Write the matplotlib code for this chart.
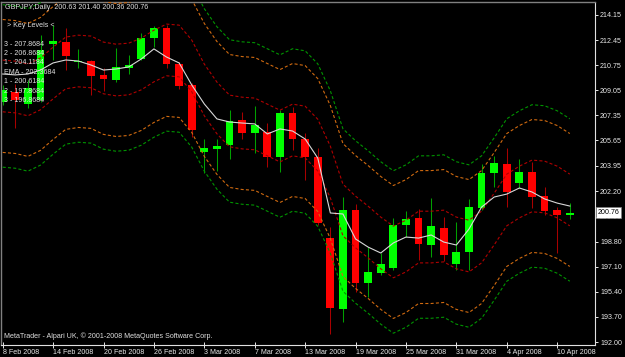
import matplotlib
matplotlib.use("Agg")
import matplotlib.pyplot as plt
import matplotlib.transforms as mtransforms
import numpy as np

plt.rcParams['font.family'] = ['Liberation Sans', 'DejaVu Sans']
plt.rcParams['lines.scale_dashes'] = False

# ---------------- data ----------------
opens  = [208.26, 208.93, 208.12, 208.39, 212.18, 212.32, 210.93, 211.03, 210.09, 209.75,
          210.56, 211.17, 212.59, 213.27, 210.83, 209.41, 204.87, 205.07, 205.34, 207.04,
          206.16, 206.22, 204.53, 207.51, 205.75, 204.53, 199.04, 194.24, 200.94, 196.00,
          196.67, 197.01, 199.92, 200.40, 198.57, 199.72, 197.28, 198.10, 201.08, 203.45,
          204.06, 202.77, 203.52, 201.89, 200.94, 200.63]
highs  = [209.41, 209.48, 209.75, 212.80, 213.47, 213.27, 211.85, 211.10, 210.56, 211.91,
          211.44, 212.93, 213.40, 213.47, 210.97, 209.54, 205.75, 205.75, 207.71, 207.58,
          207.99, 206.83, 207.71, 207.92, 206.16, 205.14, 199.79, 201.82, 201.35, 198.43,
          198.03, 200.40, 200.87, 201.01, 201.75, 200.47, 200.13, 201.69, 204.06, 204.60,
          205.14, 204.40, 204.19, 202.50, 201.14, 201.40]
lows   = [208.05, 206.50, 207.85, 208.26, 211.10, 210.42, 210.56, 208.73, 209.00, 209.61,
          210.15, 211.10, 211.98, 210.56, 209.14, 205.89, 203.45, 203.58, 204.40, 205.75,
          204.80, 203.85, 203.52, 205.00, 202.97, 199.92, 192.54, 193.35, 195.39, 195.05,
          196.54, 196.88, 199.11, 197.55, 197.76, 197.49, 196.88, 196.88, 200.94, 202.50,
          201.14, 202.43, 201.08, 200.60, 198.03, 200.36]
closes = [209.07, 208.39, 209.20, 211.78, 212.39, 211.37, 211.03, 210.02, 209.81, 210.63,
          210.76, 212.59, 213.27, 210.83, 209.34, 206.36, 205.14, 205.28, 206.97, 206.16,
          206.70, 204.53, 207.51, 205.75, 204.53, 200.06, 194.30, 200.94, 196.00, 196.74,
          197.28, 199.92, 200.33, 198.64, 199.86, 197.89, 198.10, 201.14, 203.45, 204.13,
          202.16, 203.52, 201.82, 200.87, 200.60, 200.76]

ema_line = [210.15, 210.09, 210.15, 210.42, 210.90, 211.10, 211.03, 210.76, 210.42, 210.49,
            210.63, 211.17, 211.85, 211.30, 210.90, 209.41, 208.12, 207.11, 206.90, 206.83,
            206.77, 206.09, 206.43, 206.29, 205.75, 204.46, 200.74, 200.67, 198.98, 198.43,
            198.03, 198.71, 199.11, 199.04, 199.25, 198.77, 198.57, 199.65, 201.14, 201.82,
            202.02, 202.43, 202.16, 201.69, 201.41, 201.21]

band_center = [209.34, 209.27, 209.07, 209.48, 210.22, 210.90, 211.03, 210.97, 210.56, 210.42,
               210.49, 210.83, 211.37, 211.78, 211.71, 210.70, 209.07, 207.85, 206.97, 206.83,
               206.77, 206.36, 205.95, 206.36, 206.22, 205.34, 203.51, 200.94, 200.13, 199.45,
               198.71, 198.10, 198.50, 199.11, 199.11, 199.18, 198.71, 198.50, 199.11, 200.33,
               201.62, 202.16, 202.57, 202.50, 202.16, 201.62]

band_offsets = [1.75, 4.5, 5.5]           # level 1, 2, 3
band_colors  = ['#B00000', '#D06A10', '#009400']

date_ticks  = [0, 4, 8, 12, 16, 20, 24, 28, 32, 36, 40, 44]
date_labels = ['8 Feb 2008', '14 Feb 2008', '20 Feb 2008', '26 Feb 2008', '3 Mar 2008',
               '7 Mar 2008', '13 Mar 2008', '19 Mar 2008', '25 Mar 2008', '31 Mar 2008',
               '4 Apr 2008', '10 Apr 2008']
price_ticks = [214.15, 212.45, 210.75, 209.05, 207.35, 205.65, 203.95, 202.20,
               200.50, 198.80, 197.10, 195.40, 193.70, 192.00]

header = "GBPJPY,Daily  200.63 201.40 200.36 200.76"
key_title = "> Key Levels <"
key_lines = ["3 - 207.8684", "2 - 206.8684", "1 - 204.1184", "EMA - 202.3684",
             "1 - 200.6184", "2 - 197.8684", "3 - 196.8684"]
footer = "MetaTrader - Alpari UK, \u00a9 2001-2008 MetaQuotes Software Corp."
last_price = 200.76

# ---------------- figure ----------------
W, H = 625, 357
fig = plt.figure(figsize=(W / 100, H / 100), dpi=100, facecolor='black')
left_px, right_px, top_px, bot_px = 1.5, 595.0, 1.5, 345.0
ax = fig.add_axes([left_px / W, 1 - bot_px / H, (right_px - left_px) / W, (bot_px - top_px) / H])
ax.set_facecolor('black')

x = np.arange(len(opens))
o = np.array(opens); c = np.array(closes); h = np.array(highs); l = np.array(lows)
up = c >= o

# wicks
ax.vlines(x[up], l[up], h[up], color='#00A000', lw=0.75, zorder=2)
ax.vlines(x[~up], l[~up], h[~up], color='#A80000', lw=0.75, zorder=2)
# bodies
body_h = np.maximum(np.abs(c - o), 0.06)
ax.bar(x[up], body_h[up], bottom=np.minimum(o, c)[up], width=0.62, color='#00FF00',
       edgecolor='none', zorder=2.5)
ax.bar(x[~up], body_h[~up], bottom=np.minimum(o, c)[~up], width=0.62, color='#FF0000',
       edgecolor='none', zorder=2.5)

# envelope bands
cen = np.array(band_center)
for off, col in zip(band_offsets, band_colors):
    for sgn in (1, -1):
        ax.plot(x, cen + sgn * off, color=col, lw=0.8, dashes=(2.2, 1.6), zorder=3)

# moving average
ax.plot(x, ema_line, color='#D8D8D8', lw=0.8, zorder=4)

# axes limits
ax.set_xlim(-0.095, 47.0)
ax.set_ylim(191.80, 215.06)

# frame
for s in ('left', 'top'):
    ax.spines[s].set_color('#808080')
    ax.spines[s].set_linewidth(1.0)
for s in ('right', 'bottom'):
    ax.spines[s].set_color('#E0E0E0')
    ax.spines[s].set_linewidth(0.8)

# y ticks on right
ax.yaxis.tick_right()
ax.set_yticks(price_ticks)
ax.set_yticklabels([f"{v:.2f}" for v in price_ticks])
ax.tick_params(axis='y', colors='#E8E8E8', labelsize=5.1, length=2.5, width=0.7,
               direction='out', pad=1.2)
# x ticks
ax.set_xticks(date_ticks)
ax.set_xticklabels(date_labels)
ax.tick_params(axis='x', colors='#E8E8E8', labelsize=5.1, length=4, width=0.7,
               direction='inout', pad=0.8)
for lab in ax.get_xticklabels():
    lab.set_ha('left')

# current price box
trans = mtransforms.blended_transform_factory(ax.transAxes, ax.transData)
ax.text(1.004, last_price, f"{last_price:.2f}", transform=trans, ha='left', va='center',
        fontsize=5.1, color='black', zorder=10, clip_on=False,
        bbox=dict(boxstyle='square,pad=0.25', fc='white', ec='#808080', lw=0.5))

# overlay texts (figure pixel coords)
def ftext(px, py, s, **kw):
    fig.text(px / W, 1 - py / H, s, ha='left', va='center', fontsize=5.1,
             color='#E0E0E0', **kw)

ftext(5, 7.5, header)
ftext(7, 25.5, key_title)
for k, s in enumerate(key_lines):
    ftext(4.5, 44 + 9.45 * k, s)
ftext(4, 336.5, footer)

fig.savefig('out.png', dpi=100, facecolor='black')
